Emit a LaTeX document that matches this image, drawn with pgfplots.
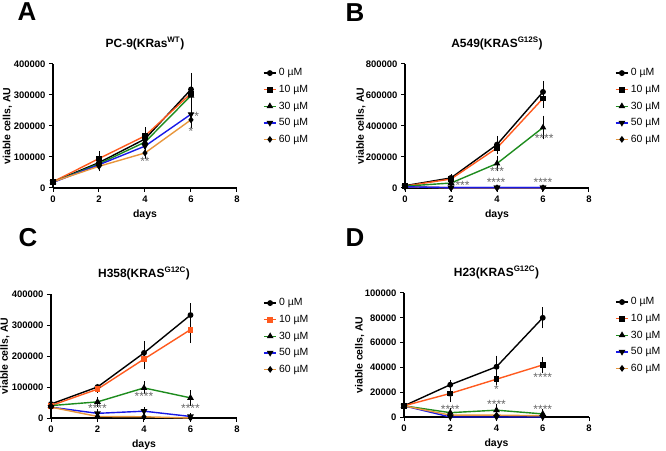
\documentclass[border=0pt]{standalone}
\usepackage{pgfplots}
\pgfplotsset{compat=1.18}
\usepackage{fontspec}
\setmainfont{Liberation Sans}
\definecolor{c0}{RGB}{0,0,0}
\definecolor{c10}{RGB}{255,90,30}
\definecolor{c30}{RGB}{30,140,30}
\definecolor{c50}{RGB}{25,25,230}
\definecolor{c60}{RGB}{232,150,60}
\tikzset{starlbl/.style={font=\fontsize{12}{10}\selectfont, text=black!60, inner sep=0pt}}
\pgfplotsset{
 panel/.style={
  scale only axis, width=184bp, height=124bp,
  axis lines=left, axis line style={-, line width=1.1bp},
  every tick/.style={black, line width=1bp},
  tick align=outside, major tick length=4bp,
  xmin=0, xmax=8, xtick={0,2,4,6,8},
  ymin=0,
  scaled y ticks=false,
  tick label style={font=\fontsize{9.5}{10}\selectfont\bfseries},
  /pgf/number format/assume math mode=true,
  every axis x label/.style={at={(axis description cs:0.5,-0.22)}, anchor=center, font=\fontsize{10.5}{11}\selectfont\bfseries},
  every axis y label/.style={at={(axis description cs:-0.248,0.5)}, rotate=90, anchor=center, font=\fontsize{10.5}{11}\selectfont\bfseries},
  xlabel={days}, ylabel={viable cells, AU},
  title style={font=\fontsize{12}{13}\selectfont\bfseries, yshift=5bp},
  legend style={at={(1.14,0.98)}, anchor=north west, draw=none, fill=none, font=\fontsize{10.5}{12}\selectfont, row sep=3.8bp, inner sep=0pt},
  legend cell align=left,
  legend image code/.code={\draw[mark repeat=2,mark phase=2] plot coordinates {(0cm,0cm) (0.22cm,0cm) (0.44cm,0cm)};},
  clip=false,
  error bars/y dir=both, error bars/y explicit,
  error bars/error bar style={line width=0.6bp, black},
  error bars/error mark options={line width=0.6bp, mark size=2.5bp, black},
 },
 s0/.style={c0, line width=1.4bp, mark=*, mark size=2.2bp, mark options={black}},
 s10/.style={c10, line width=1.4bp, mark=square*, mark size=2.2bp, mark options={black}},
 s30/.style={c30, line width=1.4bp, mark=triangle*, mark size=2.5bp, mark options={black}},
 s50/.style={c50, line width=1.4bp, mark=triangle*, mark size=2.5bp, mark options={black, rotate=180}},
 s60/.style={c60, line width=1.4bp, mark=diamond*, mark size=2.3bp, mark options={black}},
}
\begin{document}
\begin{tikzpicture}
\useasboundingbox (0,0) rectangle (666bp,451bp);
% Panel letters
\node[font=\fontsize{26}{26}\selectfont\bfseries] at (27bp,439bp) {A};
\node[font=\fontsize{26}{26}\selectfont\bfseries] at (355bp,438bp) {B};
\node[font=\fontsize{26}{26}\selectfont\bfseries] at (28bp,213bp) {C};
\node[font=\fontsize{26}{26}\selectfont\bfseries] at (355bp,213bp) {D};

% ---------------- A
\begin{axis}[panel, at={(53bp,263bp)}, anchor=south west,
  title={PC-9(KRas\textsuperscript{WT})},
  ymax=400000, ytick={0,100000,200000,300000,400000},
  yticklabels={0,100000,200000,300000,400000}]
\addplot[s0] coordinates {(0,20000) +- (0,3000) (2,82000) +- (0,10000) (4,158000) +- (0,15000) (6,318000) +- (0,45000)};
\addplot[s10] coordinates {(0,20000) +- (0,3000) (2,95000) +- (0,15000) (4,168000) +- (0,20000) (6,305000) +- (0,45000)};
\addplot[s30] coordinates {(0,19000) +- (0,3000) (2,78000) +- (0,10000) (4,148000) +- (0,15000) (6,298000) +- (0,35000)};
\addplot[s50] coordinates {(0,18000) +- (0,3000) (2,75000) +- (0,8000) (4,135000) +- (0,12000) (6,238000) +- (0,25000)};
\addplot[s60] coordinates {(0,20000) +- (0,3000) (2,70000) +- (0,8000) (4,113000) +- (0,12000) (6,220000) +- (0,20000)};
\legend{0 µM,10 µM,30 µM,50 µM,60 µM}
\node[starlbl] at (axis cs:4,86000) {**};
\node[starlbl] at (axis cs:6.25,232000) {*};
\node[starlbl] at (axis cs:6,182000) {*};
\end{axis}

% ---------------- B
\begin{axis}[panel, at={(405bp,263bp)}, anchor=south west,
  every axis y label/.append style={at={(axis description cs:-0.24,0.5)}},
  title={A549(KRAS\textsuperscript{G12S})},
  ymax=800000, ytick={0,200000,400000,600000,800000},
  yticklabels={0,200000,400000,600000,800000}]
\addplot[s0] coordinates {(0,15000) +- (0,3000) (2,65000) +- (0,8000) (4,280000) +- (0,40000) (6,620000) +- (0,55000)};
\addplot[s10] coordinates {(0,12000) +- (0,3000) (2,58000) +- (0,8000) (4,258000) +- (0,25000) (6,578000) +- (0,45000)};
\addplot[s30] coordinates {(0,12000) +- (0,3000) (2,32000) +- (0,5000) (4,158000) +- (0,35000) (6,390000) +- (0,60000)};
\addplot[s50] coordinates {(0,8000) +- (0,2000) (2,2000) +- (0,1000) (4,2000) +- (0,1000) (6,2000) +- (0,1000)};
\addplot[s60] coordinates {(0,8000) +- (0,2000) (2,1000) +- (0,1000) (4,1000) +- (0,1000) (6,1000) +- (0,1000)};
\addplot[s50, forget plot] coordinates {(0,8000) (2,2000) (4,2000) (6,2000)};
\legend{0 µM,10 µM,30 µM,50 µM,60 µM}
\node[starlbl] at (axis cs:6.05,322000) {****};
\node[starlbl] at (axis cs:4,106000) {***};
\node[starlbl] at (axis cs:2.4,20000) {****};
\node[starlbl] at (axis cs:3.96,36000) {****};
\node[starlbl] at (axis cs:6,38000) {****};
\end{axis}

% ---------------- C
\begin{axis}[panel, at={(51bp,33bp)}, anchor=south west, width=186bp,
  title={H358(KRAS\textsuperscript{G12C})},
  ymax=400000, ytick={0,100000,200000,300000,400000},
  yticklabels={0,100000,200000,300000,400000}]
\addplot[s0] coordinates {(0,45000) +- (0,5000) (2,100000) +- (0,3000) (4,210000) +- (0,30000) (6,332000) +- (0,30000)};
\addplot[s10, mark options={c10}] coordinates {(0,40000) +- (0,3000) (2,93000) +- (0,5000) (4,190000) +- (0,25000) (6,285000) +- (0,35000)};
\addplot[s30] coordinates {(0,40000) +- (0,3000) (2,52000) +- (0,8000) (4,97000) +- (0,13000) (6,65000) +- (0,17000)};
\addplot[s50] coordinates {(0,35000) +- (0,3000) (2,15000) +- (0,5000) (4,22000) +- (0,5000) (6,5000) +- (0,3000)};
\addplot[s60] coordinates {(0,35000) +- (0,3000) (2,5000) +- (0,2000) (4,4000) +- (0,2000) (6,0) +- (0,1000)};
\legend{0 µM,10 µM,30 µM,50 µM,60 µM}
\node[starlbl] at (axis cs:2,31000) {****};
\node[starlbl] at (axis cs:4,71000) {****};
\node[starlbl] at (axis cs:6,31000) {****};
\end{axis}

% ---------------- D
\begin{axis}[panel, at={(404bp,34bp)}, anchor=south west, width=185bp,
  every axis y label/.append style={at={(axis description cs:-0.24,0.5)}},
  title={H23(KRAS\textsuperscript{G12C})},
  ymax=100000, ytick={0,20000,40000,60000,80000,100000},
  yticklabels={0,20000,40000,60000,80000,100000}]
\addplot[s0] coordinates {(0,9000) +- (0,1000) (2,26000) +- (0,2000) (4,40500) +- (0,7000) (6,80000) +- (0,6500)};
\addplot[s10] coordinates {(0,9000) +- (0,1000) (2,19000) +- (0,5000) (4,30500) +- (0,3000) (6,42000) +- (0,4500)};
\addplot[s30] coordinates {(0,9000) +- (0,1000) (2,3500) +- (0,2000) (4,5500) +- (0,3000) (6,2500) +- (0,2000)};
\addplot[s50] coordinates {(0,9000) +- (0,1000) (2,0) +- (0,500) (4,0) +- (0,500) (6,0) +- (0,500)};
\addplot[s60] coordinates {(0,9000) +- (0,1000) (2,1500) +- (0,1000) (4,1500) +- (0,1000) (6,1000) +- (0,1000)};
\legend{0 µM,10 µM,30 µM,50 µM,60 µM}
\node[starlbl] at (axis cs:6,32000) {****};
\node[starlbl] at (axis cs:4,22000) {*};
\node[starlbl] at (axis cs:2,15500) {*};
\node[starlbl] at (axis cs:2,6000) {****};
\node[starlbl] at (axis cs:4,10500) {****};
\node[starlbl] at (axis cs:6,6500) {****};
\end{axis}
\end{tikzpicture}
\end{document}
